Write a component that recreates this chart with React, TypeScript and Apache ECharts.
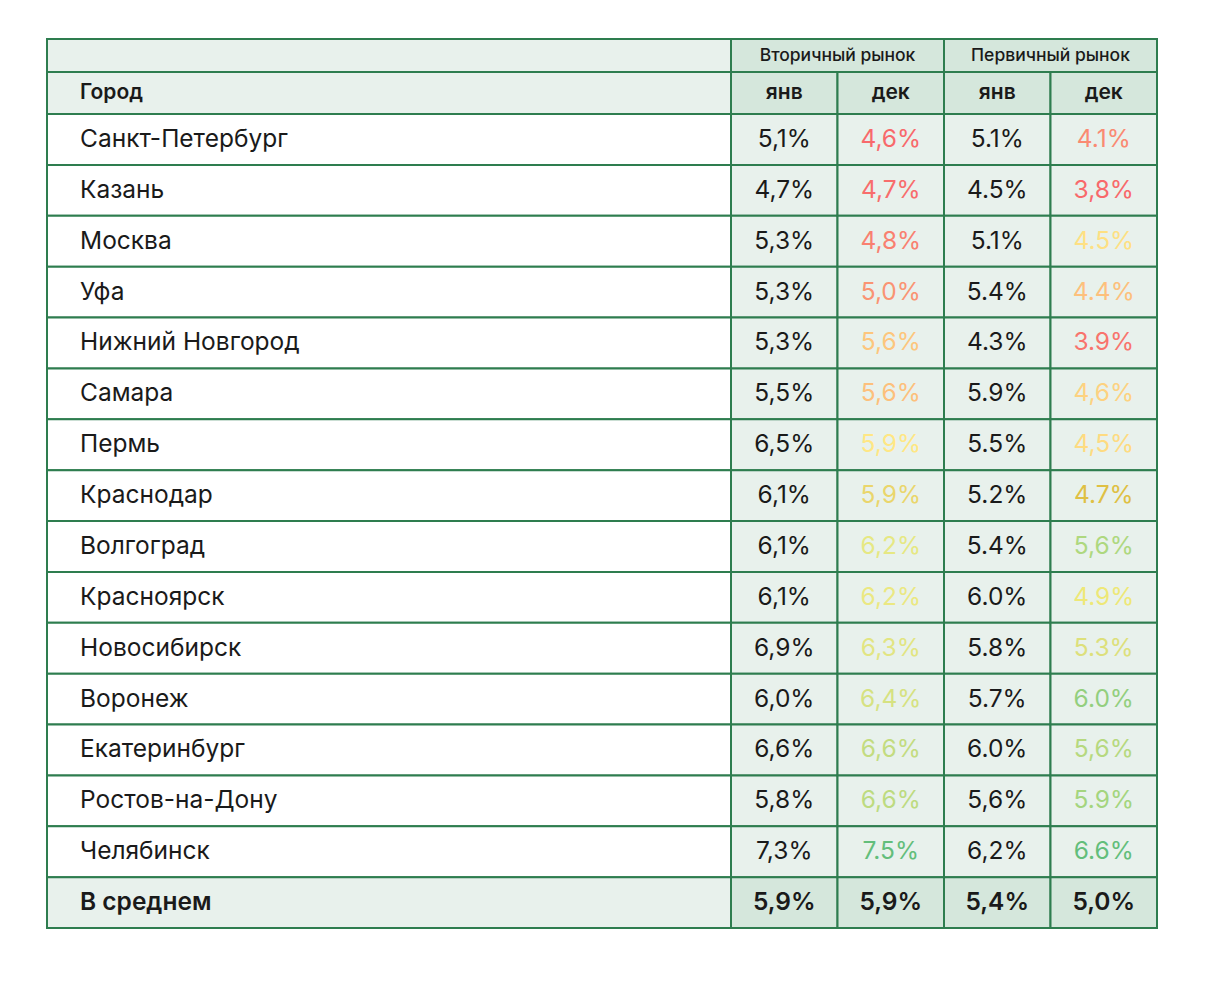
import React, { useEffect, useRef } from 'react';
import * as echarts from 'echarts';

// ---------- data ----------
const cityHeader = 'Город';
const avgLabel = 'В среднем';
const groups = ['Вторичный рынок', 'Первичный рынок'];
const months = ['янв', 'дек', 'янв', 'дек'];
const cities = [
  'Санкт-Петербург', 'Казань', 'Москва', 'Уфа', 'Нижний Новгород', 'Самара', 'Пермь',
  'Краснодар', 'Волгоград', 'Красноярск', 'Новосибирск', 'Воронеж', 'Екатеринбург',
  'Ростов-на-Дону', 'Челябинск',
];
const secJan = [5.1, 4.7, 5.3, 5.3, 5.3, 5.5, 6.5, 6.1, 6.1, 6.1, 6.9, 6.0, 6.6, 5.8, 7.3];
const secDec = [4.6, 4.7, 4.8, 5.0, 5.6, 5.6, 5.9, 5.9, 6.2, 6.2, 6.3, 6.4, 6.6, 6.6, 7.5];
const primJan = [5.1, 4.5, 5.1, 5.4, 4.3, 5.9, 5.5, 5.2, 5.4, 6.0, 5.8, 5.7, 6.0, 5.6, 6.2];
const primDec = [4.1, 3.8, 4.5, 4.4, 3.9, 4.6, 4.5, 4.7, 5.6, 4.9, 5.3, 6.0, 5.6, 5.9, 6.6];
const averages = [5.9, 5.9, 5.4, 5.0];
// decimal separator used in each printed cell
const secJanSep = [',', ',', ',', ',', ',', ',', ',', ',', ',', ',', ',', ',', ',', ',', ','];
const secDecSep = [',', ',', ',', ',', ',', ',', ',', ',', ',', ',', ',', ',', ',', ',', '.'];
const primJanSep = ['.', '.', '.', '.', '.', '.', '.', '.', '.', '.', '.', '.', '.', ',', ','];
const primDecSep = ['.', ',', '.', '.', '.', ',', ',', '.', ',', '.', '.', '.', ',', '.', '.'];
const avgSep = [',', ',', ',', ','];
// conditional-format text colours
const secDecColors = [
  '#f8696b', '#f86d6c', '#f98070', '#fa9473', '#fdc67d', '#fdc07c', '#ffe784', '#ead66c',
  '#e6e883', '#ebe882', '#e2e582', '#d6e281', '#c3dc80', '#bddb80', '#63be7b',
];
const primDecColors = [
  '#fa8a72', '#f8696b', '#fee083', '#fdc07c', '#f8746d', '#fdd281', '#fedb81', '#dfc043',
  '#aed87f', '#eee877', '#dde07b', '#93cf7e', '#b6d97f', '#a4d57e', '#63be7b',
];

// ---------- style ----------
const FONT = 'Inter, "Noto Sans", sans-serif';
const BORDER = '#2e7d4f';
const BG_LIGHT = '#e8f1ec';
const BG_DARK = '#d5e7dc';
const TEXT = '#1a1a1a';

const columns = [secJan, secDec, primJan, primDec];
const seps = [secJanSep, secDecSep, primJanSep, primDecSep];
const colColors: (string[] | null)[] = [null, secDecColors, null, primDecColors];

const fmt = (v: number, sep: string) => v.toFixed(1).replace('.', sep) + '%';

type Cell = {
  value: [number, number];
  text: string;
  color: string;
  bg: string;
  size: number;
  weight: number | string;
  align: 'left' | 'center';
};

function makeSeries(gridIndex: number, cells: Cell[]) {
  return {
    type: 'custom',
    xAxisIndex: gridIndex,
    yAxisIndex: gridIndex,
    data: cells.map((c) => c.value),
    renderItem: (params: any, api: any) => {
      const cell = cells[params.dataIndex];
      const p = api.coord([api.value(0), api.value(1)]);
      const s = api.size([1, 1]);
      const x0 = p[0] - s[0] / 2;
      const y0 = p[1] - s[1] / 2;
      return {
        type: 'group',
        children: [
          {
            type: 'rect',
            shape: { x: x0, y: y0, width: s[0], height: s[1] },
            style: { fill: cell.bg, stroke: BORDER, lineWidth: 2 },
          },
          {
            type: 'text',
            x: cell.align === 'left' ? x0 + 33 : p[0],
            y: p[1] - 1.5,
            style: {
              text: cell.text,
              fill: cell.color,
              fontFamily: FONT,
              fontSize: cell.size,
              fontWeight: cell.weight,
              align: cell.align,
              verticalAlign: 'middle',
            },
          },
        ],
      };
    },
  };
}

export default function App() {
  const ref = useRef<HTMLDivElement>(null);
  useEffect(() => {
    if (!ref.current) return;
    const chart = echarts.init(ref.current, undefined, { renderer: 'svg' });

    const rows = [...cities, avgLabel];
    const L = 47, CW = 684, VW = 426;
    const grids = [
      { left: L, top: 39, width: CW, height: 33 },
      { left: L + CW, top: 39, width: VW, height: 33 },
      { left: L, top: 72, width: CW, height: 42 },
      { left: L + CW, top: 72, width: VW, height: 42 },
      { left: L, top: 114, width: CW, height: 814 },
      { left: L + CW, top: 114, width: VW, height: 814 },
    ];
    const hidden = { axisLine: { show: false }, axisTick: { show: false }, axisLabel: { show: false }, splitLine: { show: false } };
    const xCats = [[''], groups, [cityHeader], months, ['city'], months.map((m, i) => m + i)];
    const yCats = [[''], [''], [''], [''], rows, rows];
    const xAxis = xCats.map((d, i) => ({ type: 'category', gridIndex: i, data: d, ...hidden }));
    const yAxis = yCats.map((d, i) => ({ type: 'category', gridIndex: i, data: d, inverse: true, ...hidden }));

    const head1City: Cell[] = [{ value: [0, 0], text: '', color: TEXT, bg: BG_LIGHT, size: 17, weight: 400, align: 'left' }];
    const head1Val: Cell[] = groups.map((g, i) => ({ value: [i, 0], text: g, color: TEXT, bg: BG_DARK, size: 17.5, weight: 500, align: 'center' }));
    const head2City: Cell[] = [{ value: [0, 0], text: cityHeader, color: TEXT, bg: BG_LIGHT, size: 21, weight: 600, align: 'left' }];
    const head2Val: Cell[] = months.map((m, i) => ({ value: [i, 0], text: m, color: TEXT, bg: BG_DARK, size: 21, weight: 600, align: 'center' }));
    const bodyCity: Cell[] = rows.map((r, i) => ({
      value: [0, i], text: r, color: TEXT,
      bg: i === cities.length ? BG_LIGHT : '#ffffff',
      size: 24.5, weight: i === cities.length ? 600 : 400, align: 'left',
    }));
    const bodyVal: Cell[] = [];
    columns.forEach((col, c) => {
      col.forEach((v, r) => {
        const cc = colColors[c];
        bodyVal.push({ value: [c, r], text: fmt(v, seps[c][r]), color: cc ? cc[r] : TEXT, bg: BG_LIGHT, size: 24.5, weight: 400, align: 'center' });
      });
      bodyVal.push({ value: [c, cities.length], text: fmt(averages[c], avgSep[c]), color: TEXT, bg: BG_DARK, size: 24.5, weight: 600, align: 'center' });
    });

    chart.setOption({
      animation: false,
      grid: grids.map((g) => ({ ...g, containLabel: false })),
      xAxis,
      yAxis,
      series: [
        makeSeries(0, head1City),
        makeSeries(1, head1Val),
        makeSeries(2, head2City),
        makeSeries(3, head2Val),
        makeSeries(4, bodyCity),
        makeSeries(5, bodyVal),
      ],
    });
    return () => chart.dispose();
  }, []);
  return (
    <div
      ref={ref}
      style={{ position: 'fixed', left: 0, top: 0, width: 1208, height: 992, background: '#ffffff' }}
    />
  );
}
